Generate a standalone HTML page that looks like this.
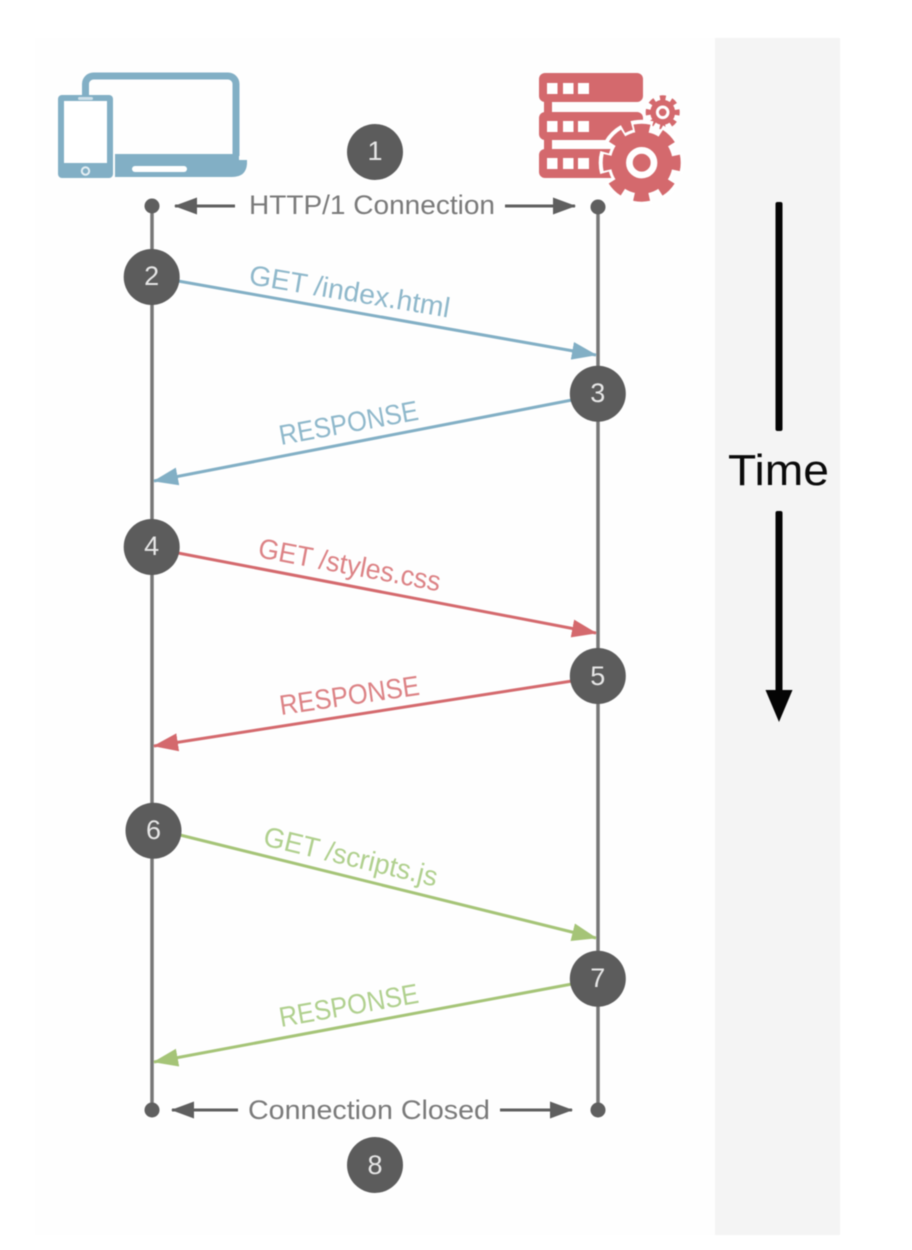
<!DOCTYPE html>
<html><head><meta charset="utf-8"><style>
html,body{margin:0;padding:0;background:#fff;width:912px;height:1250px;overflow:hidden}
svg{display:block;filter:blur(.6px)}
text{font-family:"Liberation Sans",sans-serif}
</style></head><body>
<svg width="912" height="1250" viewBox="0 0 912 1250" xmlns="http://www.w3.org/2000/svg">
<defs>
<marker id="b" markerUnits="userSpaceOnUse" orient="auto" markerWidth="30" markerHeight="24" refX="24" refY="12"><path d="M0,3L25,12L0,21Z" fill="#82afc5"/></marker>
<marker id="r" markerUnits="userSpaceOnUse" orient="auto" markerWidth="30" markerHeight="24" refX="24" refY="12"><path d="M0,3L25,12L0,21Z" fill="#d4696d"/></marker>
<marker id="g" markerUnits="userSpaceOnUse" orient="auto" markerWidth="30" markerHeight="24" refX="24" refY="12"><path d="M0,3L25,12L0,21Z" fill="#a5c477"/></marker>
<marker id="k" markerUnits="userSpaceOnUse" orient="auto" markerWidth="30" markerHeight="24" refX="22" refY="12"><path d="M0,3.500L23,12L0,20.500Z" fill="#5f5f5f"/></marker>
</defs>

<rect x="35" y="38" width="680" height="1197" fill="#fefefe"/>
<rect x="715" y="38" width="125" height="1197" fill="#f4f4f4"/>

<!-- devices -->
<path d="M85.500,96V84a8,8 0 0 1 8-8H228a8,8 0 0 1 8,8V156" fill="none" stroke="#82afc5" stroke-width="7"/>
<path d="M115,154H239V160H247V164Q246,177 232,177H115Z" fill="#82afc5"/>
<rect x="132" y="166" width="55" height="6" rx="3" fill="#fff"/>
<rect x="58" y="95" width="55" height="83" rx="4" fill="#82afc5"/>
<rect x="64" y="101" width="43" height="62" fill="#fff"/>
<rect x="78" y="97" width="15" height="3" rx="1.500" fill="#cfe0e9"/>
<circle cx="85.500" cy="171" r="3.700" fill="none" stroke="#e4eef3" stroke-width="2"/>

<!-- server -->
<rect x="539" y="73" width="104" height="29" rx="6" fill="#d4696d"/>
<rect x="539" y="112" width="104" height="28" rx="6" fill="#d4696d"/>
<rect x="539" y="149" width="104" height="29" rx="6" fill="#d4696d"/>
<rect x="544" y="100" width="8" height="52" fill="#d4696d"/>
<g fill="#fff">
<rect x="547" y="83" width="10.500" height="11"/><rect x="563" y="83" width="10.500" height="11"/><rect x="578" y="83" width="11" height="11"/>
<rect x="547" y="121" width="10.500" height="11"/><rect x="563" y="121" width="10.500" height="11"/><rect x="578" y="121" width="11" height="11"/>
<rect x="547" y="158" width="10.500" height="11"/><rect x="563" y="158" width="10.500" height="11"/><rect x="578" y="158" width="11" height="11"/>
</g>
<!-- small gear -->
<circle cx="662.700" cy="112.300" r="16" fill="#fff"/>
<circle cx="662.700" cy="112.300" r="12.500" fill="#d4696d"/>
<circle cx="662.700" cy="112.300" r="14" fill="none" stroke="#d4696d" stroke-width="6" stroke-dasharray="5.500 5.500" stroke-dashoffset="2.750"/>
<circle cx="662.700" cy="112.300" r="5.300" fill="none" stroke="#fff" stroke-width="3"/>
<!-- large gear -->
<circle cx="641.700" cy="162.700" r="34" fill="#fff"/>
<circle cx="641.700" cy="162.700" r="35" fill="none" stroke="#fff" stroke-width="16" stroke-dasharray="19 8.490" stroke-dashoffset="9.500"/>
<circle cx="641.700" cy="162.700" r="31" fill="#d4696d"/>
<circle cx="641.700" cy="162.700" r="33" fill="none" stroke="#d4696d" stroke-width="12" stroke-dasharray="14.500 11.420" stroke-dashoffset="7.250"/>
<circle cx="641.700" cy="162.700" r="12.300" fill="#d4696d" stroke="#fff" stroke-width="6.700"/>

<!-- lifelines -->
<line x1="152" y1="206" x2="152" y2="1110" stroke="#777" stroke-width="3.500"/>
<line x1="598" y1="207" x2="598" y2="1110" stroke="#777" stroke-width="3.500"/>
<g fill="#5f5f5f">
<circle cx="152" cy="206" r="7.500"/><circle cx="598" cy="207" r="7.500"/>
<circle cx="152" cy="1110" r="7.500"/><circle cx="598" cy="1110" r="7.500"/>
</g>

<!-- horizontal labels -->
<line x1="235" y1="206" x2="175" y2="206" stroke="#5f5f5f" stroke-width="3" marker-end="url(#k)"/>
<line x1="505" y1="206" x2="575" y2="206" stroke="#5f5f5f" stroke-width="3" marker-end="url(#k)"/>
<text x="249" y="214" font-size="27" fill="#7a7a7a" textLength="246" lengthAdjust="spacingAndGlyphs">HTTP/1 Connection</text>
<line x1="238" y1="1110" x2="172" y2="1110" stroke="#5f5f5f" stroke-width="3" marker-end="url(#k)"/>
<line x1="500" y1="1110" x2="572" y2="1110" stroke="#5f5f5f" stroke-width="3" marker-end="url(#k)"/>
<text x="248" y="1119" font-size="27" fill="#7a7a7a" textLength="242" lengthAdjust="spacingAndGlyphs">Connection Closed</text>

<!-- arrows -->
<line x1="178" y1="281" x2="596" y2="355" stroke="#82afc5" stroke-width="3" marker-end="url(#b)"/>
<line x1="572" y1="400" x2="154" y2="481" stroke="#82afc5" stroke-width="3" marker-end="url(#b)"/>
<line x1="178" y1="553" x2="596" y2="633" stroke="#d4696d" stroke-width="3" marker-end="url(#r)"/>
<line x1="572" y1="681" x2="154" y2="746" stroke="#d4696d" stroke-width="3" marker-end="url(#r)"/>
<line x1="180" y1="835" x2="596" y2="938" stroke="#a5c477" stroke-width="3" marker-end="url(#g)"/>
<line x1="572" y1="984" x2="154" y2="1062" stroke="#a5c477" stroke-width="3" marker-end="url(#g)"/>

<!-- arrow labels -->
<text transform="translate(248,284) rotate(9.500)" font-size="28" fill="#8fb8cb" textLength="203" lengthAdjust="spacingAndGlyphs">GET /index.html</text>
<text transform="translate(281,445) rotate(-10.400)" font-size="28" fill="#8fb8cb" textLength="141" lengthAdjust="spacingAndGlyphs">RESPONSE</text>
<text transform="translate(257,557) rotate(10.700)" font-size="28" fill="#dc8285" textLength="185" lengthAdjust="spacingAndGlyphs">GET /styles.css</text>
<text transform="translate(281,715) rotate(-8.300)" font-size="28" fill="#dc8285" textLength="141" lengthAdjust="spacingAndGlyphs">RESPONSE</text>
<text transform="translate(262,845) rotate(13.500)" font-size="28" fill="#b0d08e" textLength="178" lengthAdjust="spacingAndGlyphs">GET /scripts.js</text>
<text transform="translate(281,1027) rotate(-10)" font-size="28" fill="#b0d08e" textLength="141" lengthAdjust="spacingAndGlyphs">RESPONSE</text>

<!-- numbered circles -->
<g fill="#5c5c5c">
<circle cx="375" cy="152" r="28"/><circle cx="151.700" cy="277" r="28"/><circle cx="597.800" cy="393.700" r="28"/>
<circle cx="151.700" cy="547" r="28"/><circle cx="597.800" cy="676" r="28"/><circle cx="153.500" cy="830.700" r="28"/>
<circle cx="597.800" cy="978.700" r="28"/><circle cx="375" cy="1165" r="28"/>
</g>
<g fill="#e6e6e6" font-size="27" text-anchor="middle">
<text x="375" y="160">1</text><text x="151.700" y="285">2</text><text x="597.800" y="402">3</text>
<text x="151.700" y="555">4</text><text x="597.800" y="685">5</text><text x="153.500" y="839">6</text>
<text x="597.800" y="987">7</text><text x="375" y="1174">8</text>
</g>

<!-- time -->
<rect x="775.500" y="202" width="7" height="229" rx="2" fill="#050505"/>
<rect x="775.500" y="511" width="7" height="181" rx="2" fill="#050505"/>
<path d="M765.500,690H792.500L779,722Z" fill="#050505"/>
<text x="728" y="485" font-size="44" fill="#0a0a0a" textLength="101" lengthAdjust="spacingAndGlyphs">Time</text>
</svg>
</body></html>
